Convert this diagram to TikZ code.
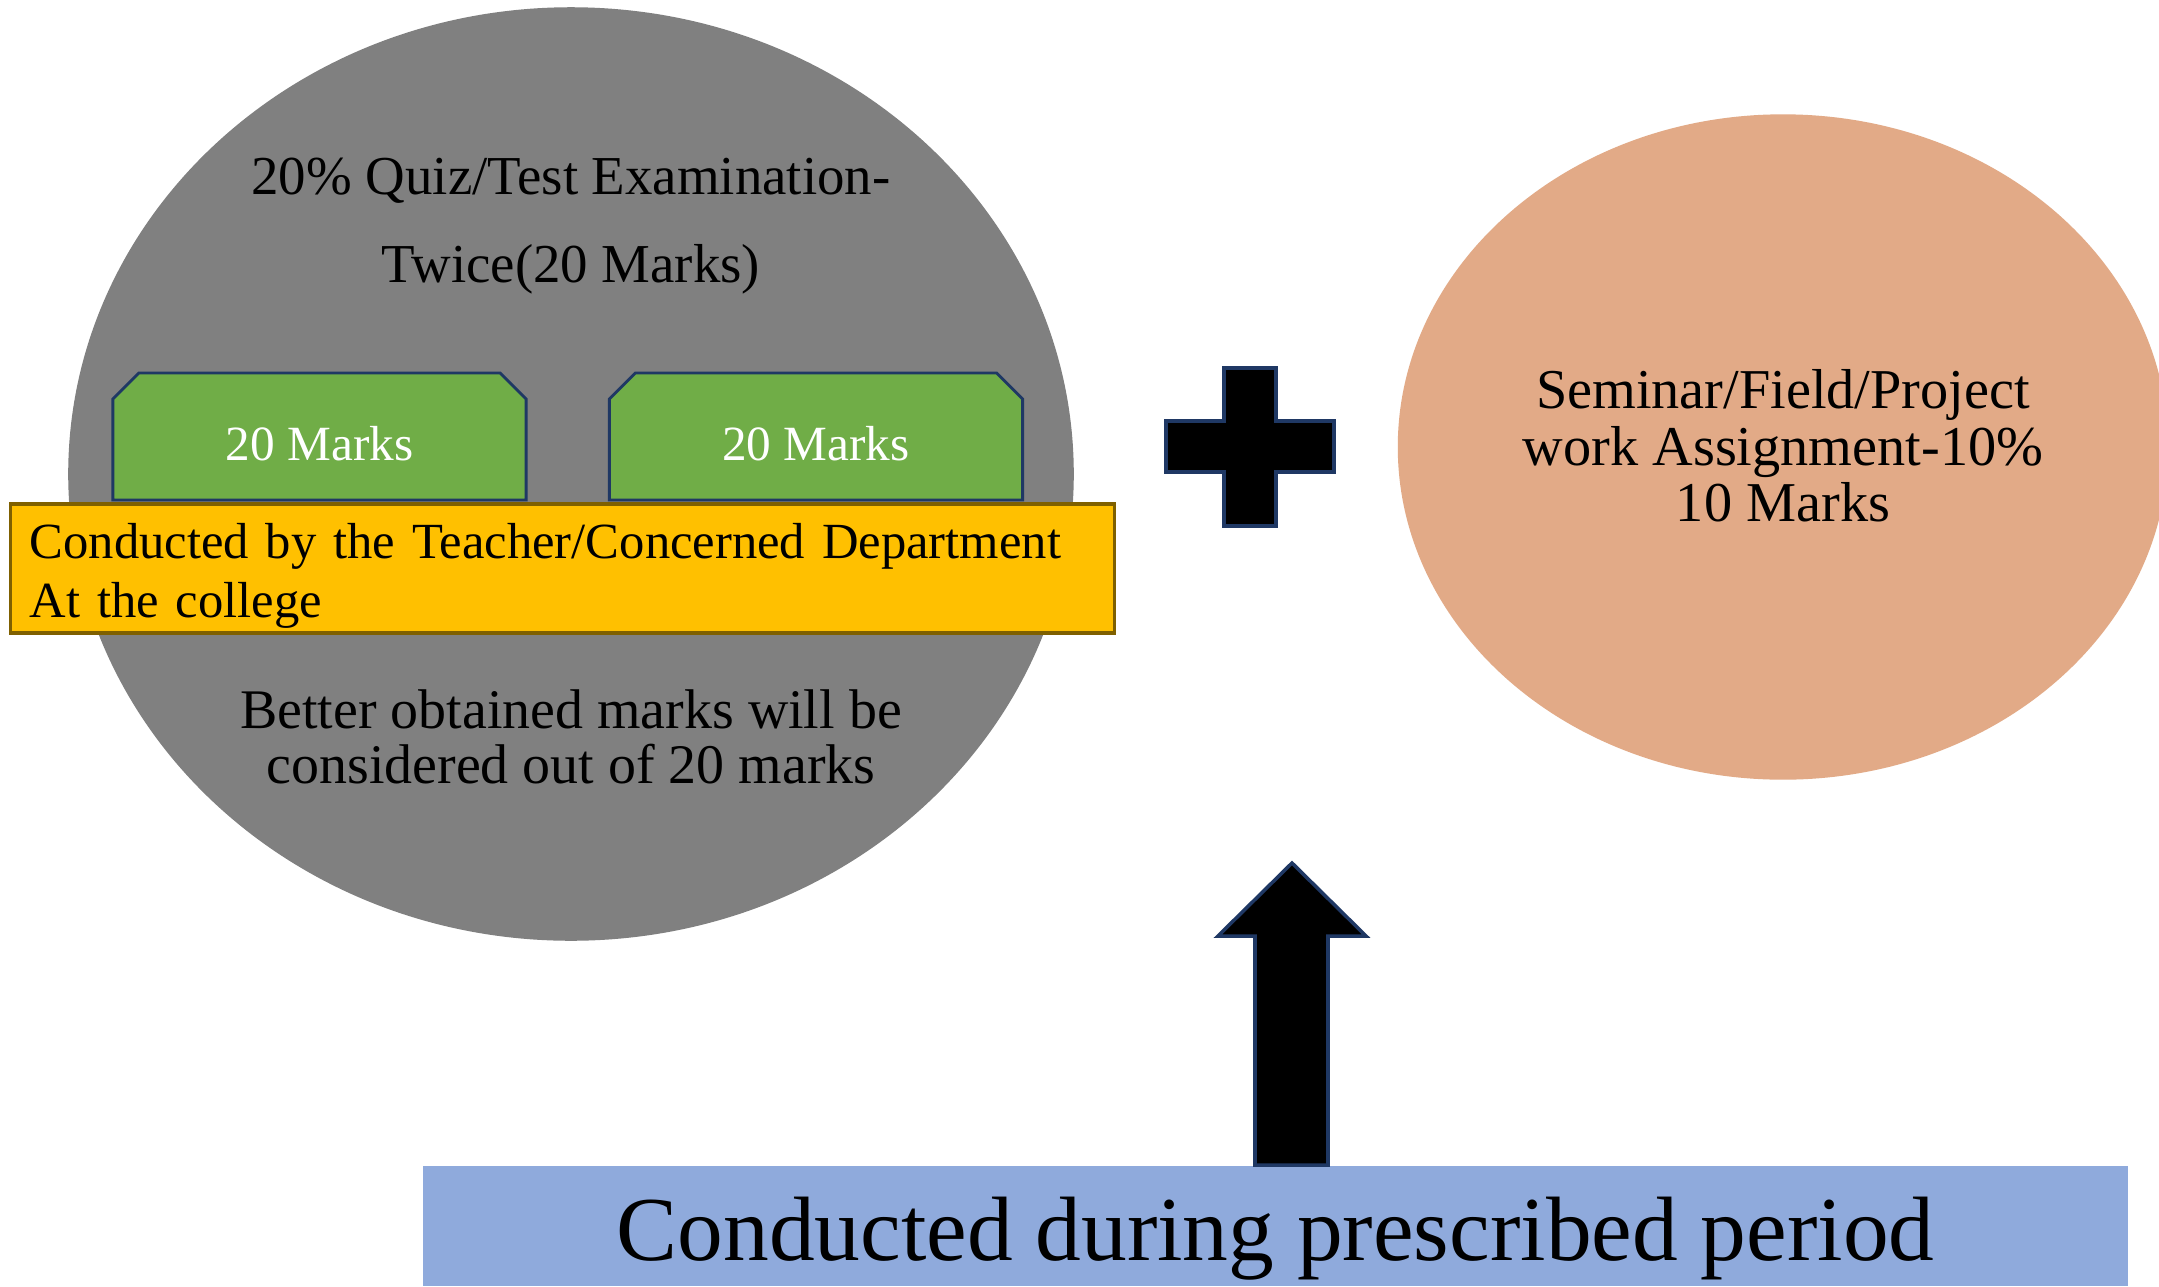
\documentclass[tikz,border=0pt]{standalone}
\usepackage{fontspec}
\setmainfont{Liberation Serif}
\usetikzlibrary{shapes.geometric,shapes.misc}
\definecolor{ovalgray}{HTML}{808080}
\definecolor{salmon}{HTML}{E2AA87}
\definecolor{tabgreen}{HTML}{70AD47}
\definecolor{navy}{HTML}{1F3864}
\definecolor{deptyellow}{HTML}{FFC000}
\definecolor{deptbrown}{HTML}{7F6000}
\definecolor{periodblue}{HTML}{8FAADC}
\newcommand{\lowered}[2]{\raisebox{-#1}[\height][\depth]{#2}}
\tikzset{
  oval/.style={ellipse, inner sep=0pt},
  tab/.style={chamfered rectangle, chamfered rectangle corners={north west,north east},
    chamfered rectangle xsep=0.13cm, chamfered rectangle ysep=0.13cm,
    fill=tabgreen, draw=navy, line width=0.8pt, text=white,
    minimum width=4.13cm, minimum height=1.27cm, font=\fontsize{14}{16}\selectfont},
  blockshape/.style={fill=black, draw=navy, line width=1pt}
}
\begin{document}
\begin{tikzpicture}[x=0.01cm,y=-0.01cm]
\clip (0,0) rectangle (2159,1287);
\fill[white] (0,0) rectangle (2159,1287);

\node[oval, fill=ovalgray, minimum width=10.05cm, minimum height=9.33cm] (quiz) at (571,474) {};
\node[oval, fill=salmon, minimum width=7.7cm, minimum height=6.65cm] (seminar) at (1783,447) {};

\node[align=center, font=\fontsize{15.6}{25}\selectfont] (quiztitle) at (571,226) {20\% Quiz/Test Examination-\\Twice(20 Marks)};
\node[tab] (tabA) at (319.5,436.5) {\lowered{2pt}{20 Marks}};
\node[tab] (tabB) at (816,436.5) {\lowered{2pt}{20 Marks}};
\node[fill=deptyellow, draw=deptbrown, line width=1pt, minimum width=11.03cm, minimum height=1.29cm,
  text width=10.65cm, align=left, inner xsep=0.19cm, font=\fontsize{14.4}{16.8}\selectfont] (dept) at (562.5,568.5)
  {\lowered{2pt}{Conducted by the Teacher/Concerned Department}\\\lowered{2pt}{At the college}};
\node[align=center, font=\fontsize{15.9}{15.8}\selectfont] (better) at (571,737) {Better obtained marks will be\\considered out of 20 marks};

\node[align=center, font=\fontsize{16}{16}\selectfont] (seminartext) at (1783,446) {Seminar/Field/Project\\work Assignment-10\%\\10 Marks};

\draw[blockshape] (1224,368) -- (1276,368) -- (1276,421) -- (1334,421) -- (1334,472) -- (1276,472)
  -- (1276,526) -- (1224,526) -- (1224,472) -- (1166,472) -- (1166,421) -- (1224,421) -- cycle;

\node[fill=periodblue, minimum width=17.04cm, minimum height=1.19cm, font=\fontsize{26}{30}\selectfont] (period) at (1275.5,1226) {\lowered{3.5pt}{Conducted during prescribed period}};

\draw[blockshape] (1255,1165) -- (1255,936) -- (1218,936) -- (1292,863) -- (1366,936) -- (1328,936) -- (1328,1165) -- cycle;
\end{tikzpicture}
\end{document}
